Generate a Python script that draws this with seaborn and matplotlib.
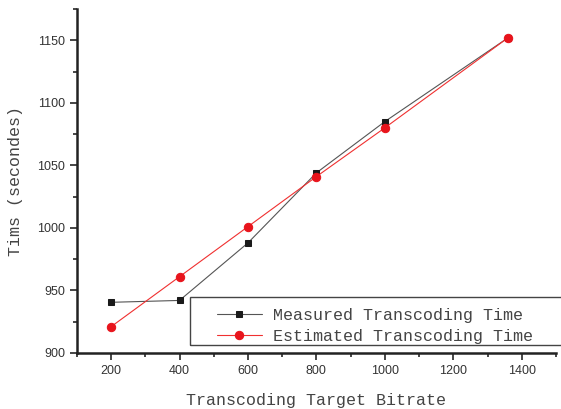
import pandas as pd
import seaborn as sns
import matplotlib.pyplot as plt
from matplotlib.ticker import MultipleLocator
from matplotlib.patches import Rectangle

sns.set_style('ticks')

# Data
bitrate = [200, 400, 600, 800, 1000, 1360]
measured = [940.5, 942, 988, 1044, 1085, 1152]
estimated = [921, 961, 1001, 1041, 1080, 1152]

df = pd.DataFrame({'Bitrate': bitrate, 'Measured': measured, 'Estimated': estimated})

fig = plt.figure(figsize=(5.61, 4.09), dpi=100)
ax = fig.add_axes([0.137, 0.137, 0.854, 0.841])

sns.lineplot(x='Bitrate', y='Measured', data=df, ax=ax, color='#555555', linewidth=0.8,
             marker='s', markersize=5, markerfacecolor='#1a1a1a', markeredgecolor='#1a1a1a',
             label='Measured Transcoding Time')
sns.lineplot(x='Bitrate', y='Estimated', data=df, ax=ax, color='#f03030', linewidth=0.8,
             marker='o', markersize=6, markerfacecolor='#e8141c', markeredgecolor='#e8141c',
             label='Estimated Transcoding Time')

ax.set_xlim(100, 1500)
ax.set_ylim(900, 1175)
ax.xaxis.set_major_locator(MultipleLocator(200))
ax.xaxis.set_minor_locator(MultipleLocator(100))
ax.yaxis.set_major_locator(MultipleLocator(50))
ax.yaxis.set_minor_locator(MultipleLocator(25))
ax.tick_params(which='major', length=5, width=1.2, labelsize=9, direction='out',
               labelcolor='#333333')
ax.tick_params(which='minor', length=3, width=1.2, direction='out')
for lbl in ax.get_xticklabels() + ax.get_yticklabels():
    lbl.set_fontfamily('Liberation Sans')

sns.despine(ax=ax)
for s in ['left', 'bottom']:
    ax.spines[s].set_linewidth(1.8)
    ax.spines[s].set_color('#222222')

ax.set_xlabel('Transcoding Target Bitrate', fontfamily='Liberation Mono', fontsize=12,
              color='#444444', labelpad=12)
ax.set_ylabel('Tims (secondes)', fontfamily='Liberation Mono', fontsize=12,
              color='#444444', labelpad=10)

# legend box runs past the right edge of the figure in the original
ax.add_patch(Rectangle((0.236, 0.023), 1.0, 0.14, transform=ax.transAxes, fill=False,
                       edgecolor='#444444', linewidth=1.0, clip_on=False, zorder=5))
leg = ax.legend(loc='upper left', bbox_to_anchor=(0.292, 0.132), frameon=False,
                prop={'family': 'Liberation Mono', 'size': 12}, handlelength=2.7,
                handletextpad=0.65, borderpad=0, labelspacing=0.4, borderaxespad=0)
for t in leg.get_texts():
    t.set_color('#444444')

plt.savefig('out.png', dpi=100)
